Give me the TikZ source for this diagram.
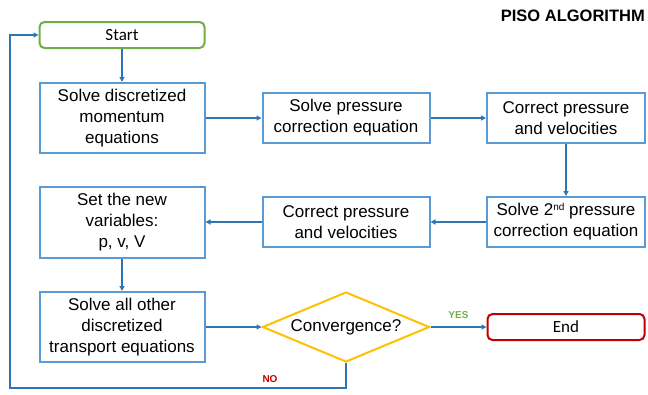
\documentclass[tikz,border=0pt]{standalone}
\usepackage{fontspec}
\setmainfont{Liberation Sans}
\newfontfamily\calib{Carlito}
\usetikzlibrary{arrows.meta,shapes.geometric}
\definecolor{boxblue}{RGB}{91,155,213}
\definecolor{arrblue}{RGB}{46,117,182}
\definecolor{startgreen}{RGB}{112,173,71}
\definecolor{condyellow}{RGB}{255,192,0}
\definecolor{endred}{RGB}{192,0,0}
\tikzset{
  x=1pt,y=1pt,
  procbox/.style={draw=boxblue,line width=2pt,fill=white,minimum width=165pt,align=center,
    inner sep=2pt,font=\fontsize{17}{21}\selectfont},
  termbox/.style={rounded corners=5pt,line width=2pt,fill=white,minimum width=165pt,minimum height=26pt,
    font=\calib\fontsize{17}{20}\selectfont},
  flow/.style={draw=arrblue,line width=1.7pt,-{Triangle[length=5pt,width=5pt]}},
  lbl/.style={font=\bfseries\fontsize{10}{12}\selectfont}
}
\begin{document}
\begin{tikzpicture}
\useasboundingbox (0,0) rectangle (648,-394);
\node[termbox,draw=startgreen] (start) at (122,-35) {Start};
\node[procbox,minimum height=70pt] (mom) at (122,-118) {Solve discretized\\momentum\\equations};
\node[procbox,minimum height=50pt,minimum width=167pt] (pc) at (346,-118) {Solve pressure\\correction equation};
\node[procbox,minimum height=50pt,minimum width=158pt] (cp1) at (566,-118) {Correct pressure\\and velocities};
\node[procbox,minimum height=50pt,minimum width=158pt] (pc2) at (566,-222) {Solve 2\raisebox{5pt}{\fontsize{10}{10}\selectfont nd} pressure\\correction equation};
\node[procbox,minimum height=50pt,minimum width=167pt] (cp2) at (346,-222) {Correct pressure\\and velocities};
\node[procbox,minimum height=71pt] (setv) at (122,-222) {Set the new\\variables:\\p, v, V};
\node[procbox,minimum height=70pt] (other) at (122,-327) {Solve all other\\discretized\\transport equations};
\node[diamond,draw=condyellow,line width=2pt,fill=white,minimum width=167pt,minimum height=70pt,inner sep=0pt,
  aspect=2.4,font=\fontsize{17}{20}\selectfont] (conv) at (346,-327) {Convergence?};
\node[termbox,draw=endred,minimum width=157pt] (end) at (566,-327) {End};
\node[font=\bfseries\fontsize{16.5}{18}\selectfont,anchor=east,inner sep=0pt] (title) at (645,-16) {PISO ALGORITHM};
\coordinate (c1) at (346,-388);
\coordinate (c2) at (10,-388);
\coordinate (c3) at (10,-35);
\draw[flow] (start) -- (mom);
\draw[flow] (mom) -- (pc);
\draw[flow] (pc) -- (cp1);
\draw[flow] (cp1) -- (pc2);
\draw[flow] (pc2) -- (cp2);
\draw[flow] (cp2) -- (setv);
\draw[flow] (setv) -- (other);
\draw[flow] (other) -- (conv);
\draw[flow] (conv) -- node[lbl,text=startgreen,above=4pt] {YES} (end);
\draw[flow] (conv.south) -- (c1) -- (c2) -- (c3) -- (start.west);
\node[lbl,text=endred] (no) at (270,-379) {NO};
\end{tikzpicture}
\end{document}
